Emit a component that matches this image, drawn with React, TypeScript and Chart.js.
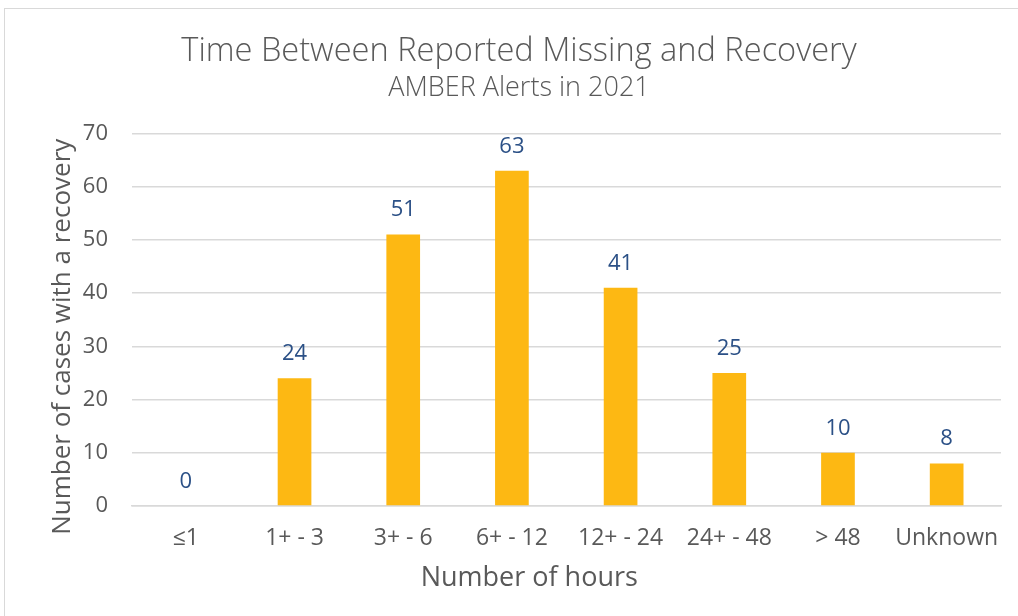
import React, { useEffect, useRef } from "react";
import { Chart, registerables } from "chart.js";

Chart.register(...registerables);

const categories = ["≤1", "1+ - 3", "3+ - 6", "6+ - 12", "12+ - 24", "24+ - 48", "> 48", "Unknown"];
const recoveries = [0, 24, 51, 63, 41, 25, 10, 8];
const yTicks = [0, 10, 20, 30, 40, 50, 60, 70];

const chartTitle = "Time Between Reported Missing and Recovery";
const chartSubtitle = "AMBER Alerts in 2021";
const xAxisTitle = "Number of hours";
const yAxisTitle = "Number of cases with a recovery";

const FONT = "'Open Sans', 'Noto Sans', sans-serif";
const GRAY = "#595959";

const dataLabels = {
  id: "dataLabels",
  afterDatasetsDraw(chart: any) {
    const ctx = chart.ctx;
    const meta = chart.getDatasetMeta(0);
    ctx.save();
    ctx.font = `400 22px ${FONT}`;
    ctx.fillStyle = "#2B5086";
    ctx.textAlign = "center";
    ctx.textBaseline = "middle";
    meta.data.forEach((bar: any, i: number) => {
      ctx.fillText(String(chart.data.datasets[0].data[i]), bar.x, bar.y - 24.5);
    });
    ctx.restore();
  },
};

// Axis titles centred on the whole plot area (labels included), as in the original
const axisTitles = {
  id: "axisTitles",
  afterDraw(chart: any) {
    const ctx = chart.ctx;
    const area = chart.chartArea;
    const x = chart.scales.x;
    ctx.save();
    ctx.fillStyle = GRAY;
    ctx.textAlign = "center";
    ctx.textBaseline = "middle";
    ctx.font = `400 27px ${FONT}`;
    ctx.fillText(xAxisTitle, (area.left + area.right) / 2 - 37, x.bottom - 38.5);
    ctx.font = `400 26px ${FONT}`;
    ctx.translate(area.left - 68.5, (area.top + area.bottom) / 2 + 17);
    ctx.rotate(-Math.PI / 2);
    ctx.fillText(yAxisTitle, 0, 0);
    ctx.restore();
  },
};

export default function App() {
  const ref = useRef<HTMLCanvasElement>(null);
  useEffect(() => {
    if (!ref.current) return;
    const chart = new Chart(ref.current, {
      type: "bar",
      data: {
        labels: categories,
        datasets: [
          {
            data: recoveries,
            backgroundColor: "#FDB813",
            categoryPercentage: 1,
            barPercentage: 0.31,
          },
        ],
      },
      options: {
        animation: false,
        responsive: false,
        layout: { padding: { top: 23.5, left: 32, right: 18, bottom: 0 } },
        plugins: {
          legend: { display: false },
          tooltip: { enabled: false },
          title: {
            display: true,
            text: chartTitle,
            color: GRAY,
            font: { family: FONT, size: 32.6, weight: "300" as any, lineHeight: 1.2 },
            padding: { top: 0, bottom: 0.5 },
          },
          subtitle: {
            display: true,
            text: chartSubtitle,
            color: GRAY,
            font: { family: FONT, size: 27, weight: "300" as any, lineHeight: 1.2 },
            padding: { top: 0, bottom: 29 },
          },
        },
        scales: {
          x: {
            grid: { display: false, drawTicks: false },
            border: { color: "#D9D9D9", width: 1.5 },
            ticks: { color: GRAY, font: { family: FONT, size: 23 }, padding: 19, maxRotation: 0, minRotation: 0 },
            afterFit: (scale: any) => {
              scale.height = 111;
            },
          },
          y: {
            min: 0,
            max: 70,
            afterBuildTicks: (scale: any) => {
              scale.ticks = yTicks.map((v) => ({ value: v }));
            },
            grid: { color: "#D9D9D9", lineWidth: 1.5, drawTicks: false },
            border: { display: false },
            ticks: { color: GRAY, font: { family: FONT, size: 22 }, padding: 23.5 },
            afterFit: (scale: any) => {
              scale.width = 94.5;
            },
          },
        },
      },
      plugins: [dataLabels, axisTitles],
    });
    return () => chart.destroy();
  }, []);

  return (
    <div
      style={{
        position: "absolute",
        left: 4,
        top: 8,
        width: 1014,
        height: 608,
        borderTop: "1px solid #D9D9D9",
        borderLeft: "1px solid #D9D9D9",
        background: "#fff",
      }}
    >
      <canvas ref={ref} width={1014} height={608} style={{ display: "block" }} />
    </div>
  );
}
